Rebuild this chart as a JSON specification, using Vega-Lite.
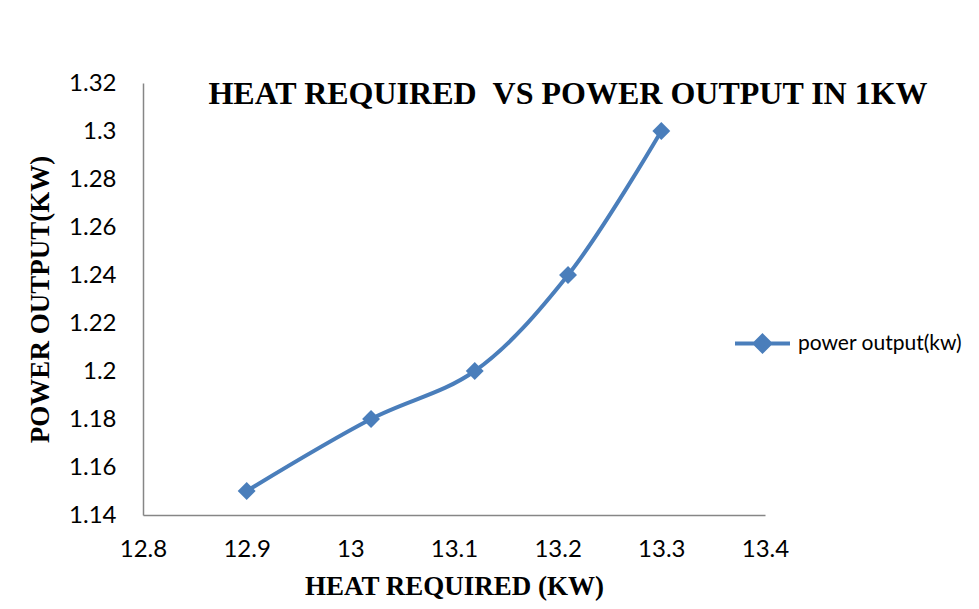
{
  "$schema": "https://vega.github.io/schema/vega-lite/v6.json",
  "width": 622,
  "height": 432,
  "autosize": {"type": "none"},
  "padding": {"left": 143, "top": 83, "right": 214, "bottom": 94},
  "background": "white",
  "config": {"view": {"stroke": null}},
  "title": {
    "text": "HEAT REQUIRED \u00a0VS POWER OUTPUT IN 1KW",
    "font": "Liberation Serif",
    "fontSize": 32,
    "fontWeight": "bold",
    "color": "#000000",
    "anchor": "middle",
    "dx": 114,
    "offset": -72,
    "baseline": "bottom"
  },
  "data": {
    "values": [
      {"heat": 12.9, "power": 1.15, "series": "power output(kw)"},
      {"heat": 13.02, "power": 1.18, "series": "power output(kw)"},
      {"heat": 13.12, "power": 1.2, "series": "power output(kw)"},
      {"heat": 13.21, "power": 1.24, "series": "power output(kw)"},
      {"heat": 13.3, "power": 1.3, "series": "power output(kw)"}
    ]
  },
  "encoding": {
    "x": {
      "field": "heat", "type": "quantitative",
      "scale": {"domain": [12.8, 13.4], "nice": false, "zero": false},
      "axis": {
        "values": [12.8, 12.9, 13.0, 13.1, 13.2, 13.3, 13.4],
        "format": "~g",
        "title": "HEAT REQUIRED (KW)",
        "titleFont": "Liberation Serif", "titleFontSize": 27, "titleFontWeight": "bold", "titleColor": "#000000",
        "titlePadding": 12,
        "labelFont": "Lato", "labelFontSize": 24, "labelColor": "#000000", "labelPadding": 22,
        "labelFlush": false, "labelOverlap": false,
        "ticks": false, "grid": false,
        "domainColor": "#868686", "domainWidth": 1.5
      }
    },
    "y": {
      "field": "power", "type": "quantitative",
      "scale": {"domain": [1.14, 1.32], "nice": false, "zero": false},
      "axis": {
        "values": [1.14, 1.16, 1.18, 1.2, 1.22, 1.24, 1.26, 1.28, 1.3, 1.32],
        "format": "~g",
        "title": "POWER OUTPUT(KW)",
        "titleFont": "Liberation Serif", "titleFontSize": 27, "titleFontWeight": "bold", "titleColor": "#000000",
        "titlePadding": 14,
        "labelFont": "Lato", "labelFontSize": 24, "labelColor": "#000000", "labelPadding": 27,
        "labelFlush": false, "labelOverlap": false,
        "ticks": false, "grid": false,
        "domainColor": "#868686", "domainWidth": 1.5
      }
    },
    "color": {
      "field": "series", "type": "nominal",
      "scale": {"range": ["#4A7EBB"]},
      "legend": {
        "title": null,
        "orient": "none",
        "legendX": 590,
        "legendY": 231,
        "symbolType": "M-1,0L1,0M0,-0.28L0.28,0L0,0.28L-0.28,0Z",
        "symbolSize": 3025,
        "symbolStrokeWidth": 4,
        "symbolFillColor": "#4A7EBB",
        "symbolStrokeColor": "#4A7EBB",
        "labelFont": "Lato", "labelFontSize": 21, "labelColor": "#000000",
        "labelOffset": 6,
        "labelLimit": 300
      }
    }
  },
  "layer": [
    {"mark": {"type": "line", "interpolate": "catmull-rom", "strokeWidth": 4}},
    {"mark": {"type": "point", "shape": "diamond", "filled": true, "size": 320, "opacity": 1}, "encoding": {"color": {"field": "series", "type": "nominal", "legend": null}}}
  ]
}
